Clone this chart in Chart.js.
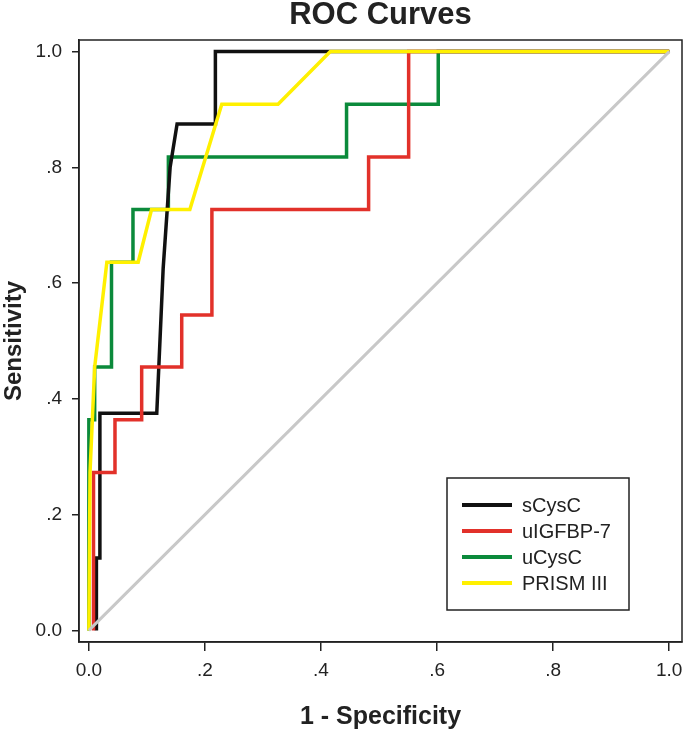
<!DOCTYPE html>
<html>
<head>
<meta charset="utf-8">
<script src="https://cdn.jsdelivr.net/npm/chart.js@4.4.1/dist/chart.umd.min.js"></script>
<style>
  html, body { margin: 0; padding: 0; background: #fff; }
  #wrap { width: 685px; height: 732px; position: relative; }
</style>
</head>
<body>
<div id="wrap"><canvas id="c" width="685" height="732"></canvas></div>
<script>
// ---- data (1 - specificity, sensitivity) ----
const seriesNames = ["sCysC", "uIGFBP-7", "uCysC", "PRISM III"];
const seriesColors = ["#111111", "#e2312a", "#0b8a3b", "#fff000"];

const sCysC_x = [0.013, 0.013, 0.019, 0.019, 0.117, 0.128, 0.140, 0.152, 0.218, 0.218, 1.0];
const sCysC_y = [0.0,   0.125, 0.125, 0.375, 0.375, 0.625, 0.800, 0.875, 0.875, 1.0,   1.0];

const uIGFBP7_x = [0.008, 0.008, 0.045, 0.045, 0.091, 0.091, 0.160, 0.160, 0.212, 0.212, 0.482, 0.482, 0.551, 0.551, 1.0];
const uIGFBP7_y = [0.0,   0.273, 0.273, 0.364, 0.364, 0.455, 0.455, 0.545, 0.545, 0.727, 0.727, 0.818, 0.818, 1.0,   1.0];

const uCysC_x = [0.0, 0.0,   0.010, 0.010, 0.039, 0.039, 0.076, 0.076, 0.137, 0.137, 0.444, 0.444, 0.602, 0.602, 1.0];
const uCysC_y = [0.0, 0.364, 0.364, 0.455, 0.455, 0.636, 0.636, 0.727, 0.727, 0.818, 0.818, 0.909, 0.909, 1.0,   1.0];

const prism_x = [0.0, 0.002, 0.010, 0.031, 0.085, 0.108, 0.174, 0.229, 0.326, 0.416, 1.0];
const prism_y = [0.0, 0.273, 0.455, 0.636, 0.636, 0.727, 0.727, 0.909, 0.909, 1.0,   1.0];

const refLine_x = [0, 1];
const refLine_y = [0, 1];

const tickValues = [0, 0.2, 0.4, 0.6, 0.8, 1.0];
const tickLabels = ["0.0", ".2", ".4", ".6", ".8", "1.0"];

const xSeries = [sCysC_x, uIGFBP7_x, uCysC_x, prism_x];
const ySeries = [sCysC_y, uIGFBP7_y, uCysC_y, prism_y];

function pts(xs, ys) { return xs.map((x, i) => ({ x: x, y: ys[i] })); }

const FONT = "'Liberation Sans', Arial, sans-serif";

const datasets = [];
datasets.push({
  label: "Reference",
  data: pts(refLine_x, refLine_y),
  borderColor: "#c8c8c8",
  borderWidth: 3,
  showLine: true, pointRadius: 0, tension: 0, fill: false,
  order: 0, isRef: true
});
const drawOrder = [3, 2, 4, 1];
seriesNames.forEach((n, i) => {
  datasets.push({
    label: n,
    data: pts(xSeries[i], ySeries[i]),
    borderColor: seriesColors[i],
    backgroundColor: seriesColors[i],
    borderWidth: 3.5,
    showLine: true, pointRadius: 0, tension: 0, fill: false,
    order: drawOrder[i]
  });
});

const framePlugin = {
  id: "frame",
  afterDatasetsDraw(chart) {
    const ctx = chart.ctx, a = chart.chartArea;
    ctx.save();
    ctx.strokeStyle = "#222";
    ctx.lineWidth = 1.5;
    ctx.strokeRect(a.left, a.top, a.right - a.left, a.bottom - a.top);

    // legend box
    const bx = a.right - 235, by = a.bottom - 164, bw = 182, bh = 132;
    ctx.fillStyle = "#fff";
    ctx.fillRect(bx, by, bw, bh);
    ctx.strokeStyle = "#222";
    ctx.lineWidth = 1.5;
    ctx.strokeRect(bx, by, bw, bh);
    const items = chart.data.datasets.filter(d => !d.isRef);
    ctx.font = "20px " + FONT;
    ctx.textBaseline = "middle";
    items.forEach((d, i) => {
      const yy = by + 27 + i * 26;
      ctx.strokeStyle = d.borderColor;
      ctx.lineWidth = 4;
      ctx.beginPath();
      ctx.moveTo(bx + 15, yy);
      ctx.lineTo(bx + 65, yy);
      ctx.stroke();
      ctx.fillStyle = "#222";
      ctx.fillText(d.label, bx + 75, yy + 1);
    });
    ctx.restore();
  }
};

function setTicks(scale) {
  scale.ticks = tickValues.map(v => ({ value: v }));
}
function fmt(v) {
  const i = tickValues.findIndex(t => Math.abs(t - v) < 1e-9);
  return i >= 0 ? tickLabels[i] : "";
}

new Chart(document.getElementById("c"), {
  type: "scatter",
  data: { datasets: datasets },
  options: {
    responsive: false,
    animation: false,
    layout: { padding: { left: 0, right: 3, top: 0, bottom: 0 } },
    plugins: {
      legend: { display: false },
      tooltip: { enabled: false },
      title: {
        display: true,
        text: "ROC Curves",
        fullSize: false,
        color: "#222",
        font: { family: FONT, size: 31, weight: "bold", lineHeight: 1 },
        padding: { top: 0, bottom: 9 }
      }
    },
    scales: {
      x: {
        type: "linear",
        min: -0.017, max: 1.022,
        afterBuildTicks: setTicks,
        afterFit(s) { s.height = 90; s.paddingLeft = 0; s.paddingRight = 0; },
        grid: { display: true, drawOnChartArea: false, drawTicks: true, tickLength: 9, color: "#222", lineWidth: 1.5 },
        border: { display: true, color: "#222", width: 1.5 },
        ticks: { callback: fmt, color: "#222", padding: 8, maxRotation: 0, autoSkip: false,
                 font: { family: FONT, size: 19 } },
        title: { display: true, text: "1 - Specificity", color: "#222",
                 font: { family: FONT, size: 25, weight: "bold", lineHeight: 1.2 },
                 padding: { top: 20, bottom: 0 } }
      },
      y: {
        type: "linear",
        min: -0.02, max: 1.02,
        afterBuildTicks: setTicks,
        afterFit(s) { s.width = 79; s.paddingTop = 0; s.paddingBottom = 0; },
        grid: { display: true, drawOnChartArea: false, drawTicks: true, tickLength: 7, color: "#222", lineWidth: 1.5 },
        border: { display: true, color: "#222", width: 1.5 },
        ticks: { callback: fmt, color: "#222", padding: 10, autoSkip: false,
                 font: { family: FONT, size: 19 } },
        title: { display: true, text: "Sensitivity", color: "#222",
                 font: { family: FONT, size: 24, weight: "bold", lineHeight: 1.2 },
                 padding: { top: 0, bottom: 6 } }
      }
    }
  },
  plugins: [framePlugin]
});
</script>
</body>
</html>
